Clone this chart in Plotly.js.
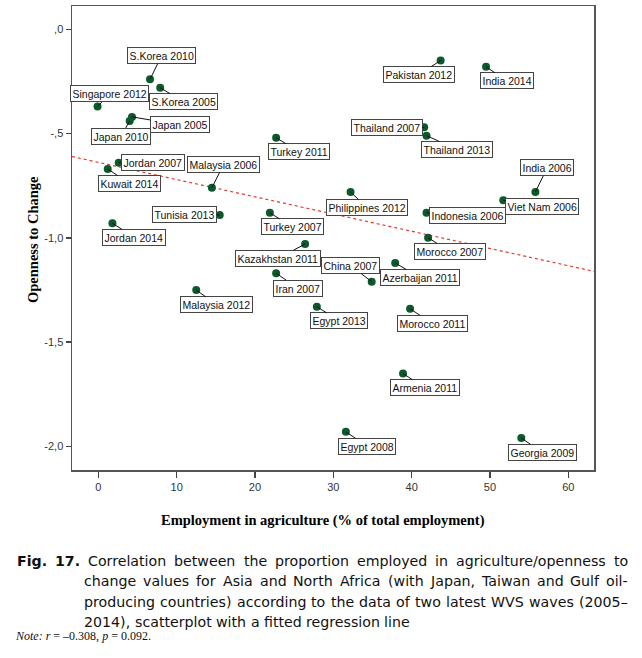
<!DOCTYPE html>
<html>
<head>
<meta charset="utf-8">
<script src="https://cdn.plot.ly/plotly-3.0.1.min.js"></script>
<style>
html,body{margin:0;padding:0;background:#fff;}
#chart{width:642px;height:658px;}
</style>
</head>
<body>
<div id="chart"></div>
<script>
// ---- data ----
const labels = ["S.Korea 2010","S.Korea 2005","Singapore 2012","Japan 2005","Japan 2010","Jordan 2007","Kuwait 2014","Malaysia 2006","Tunisia 2013","Jordan 2014","Turkey 2011","Turkey 2007","Kazakhstan 2011","Pakistan 2012","India 2014","Thailand 2007","Thailand 2013","India 2006","Viet Nam 2006","Philippines 2012","Indonesia 2006","Morocco 2007","Malaysia 2012","Iran 2007","Egypt 2013","China 2007","Azerbaijan 2011","Morocco 2011","Armenia 2011","Egypt 2008","Georgia 2009"];
const agriculture = [6.6,7.9,-0.1,4.3,4.0,2.6,1.2,14.5,15.5,1.8,22.7,21.9,26.4,43.7,49.5,41.6,41.9,55.8,51.7,32.2,41.9,42.1,12.5,22.7,27.9,34.9,37.9,39.8,38.9,31.6,54.0];
const openness = [-0.24,-0.28,-0.37,-0.42,-0.44,-0.64,-0.67,-0.76,-0.89,-0.93,-0.52,-0.88,-1.03,-0.15,-0.18,-0.47,-0.51,-0.78,-0.82,-0.78,-0.88,-1.00,-1.25,-1.17,-1.33,-1.21,-1.12,-1.34,-1.65,-1.93,-1.96];
// fitted regression line
const fitIntercept = -0.638;
const fitSlope = -0.00826;
// tick labels
const xTickVals = [0,10,20,30,40,50,60];
const xTickText = ["0","10","20","30","40","50","60"];
const yTickVals = [0,-0.5,-1,-1.5,-2];
const yTickText = [",0","-,5","-1,0","-1,5","-2,0"];

// ---- layout config (label box offsets in pixels, not data) ----
const labelOffsets = [[11.5,-23.5],[23,14],[12,-12.5],[47.5,8],[-8.5,15],[34,0],[22,14.5],[11.7,-23.4],[-35,0],[22,14],[23,14],[22.5,14],[-27,14],[-22,14],[21,14],[-37.6,0],[30,13.5],[11.7,-24],[39,5.7],[16.3,15.5],[41,2.8],[22,13.3],[20.5,14.8],[21.7,14.7],[22.5,14.2],[-21,-16],[24.3,14.5],[22,14.5],[21.5,14.4],[21.6,14.4],[21,14.2]];

const xRange = [-3.36, 63.28];
const yRange = [-2.113, 0.1116];

const M = {l:72, r:48, t:6, b:188};
const W = 642, H = 658;
const pw = W - M.l - M.r, ph = H - M.t - M.b;
const px2paperX = px => (px - M.l) / pw;
const px2paperY = py => (H - M.b - py) / ph;

const traces = [
  {
    x: xRange.slice(),
    y: xRange.map(v => fitIntercept + fitSlope * v),
    mode: 'lines', type: 'scatter', hoverinfo: 'skip',
    line: {color: '#e8392f', width: 1.2, dash: 'dot'}
  },
  {
    x: agriculture, y: openness, text: labels,
    mode: 'markers', type: 'scatter',
    marker: {color: '#0c5a2c', size: 8, line: {width: 0}}
  }
];

const annotations = labels.map((t, i) => ({
  x: agriculture[i], y: openness[i], xref: 'x', yref: 'y',
  text: t, showarrow: true, arrowhead: 0, arrowwidth: 1, arrowcolor: '#111',
  ax: labelOffsets[i][0], ay: labelOffsets[i][1], axref: 'pixel', ayref: 'pixel',
  bgcolor: '#ffffff', bordercolor: '#444', borderwidth: 1, borderpad: 1.5,
  font: {family: 'Liberation Sans, Arial, sans-serif', size: 10.5, color: '#111'}
}));

const serifBold = {family: 'Liberation Serif, Times New Roman, serif', size: 14.5, color: '#000'};
annotations.push({
  xref: 'paper', yref: 'paper', x: px2paperX(33), y: px2paperY(240),
  text: '<b>Openness to Change</b>', showarrow: false, textangle: -90,
  xanchor: 'center', yanchor: 'middle', font: serifBold
});
annotations.push({
  xref: 'paper', yref: 'paper', x: px2paperX(322.5), y: px2paperY(520),
  text: '<b>Employment in agriculture (% of total employment)</b>', showarrow: false,
  xanchor: 'center', yanchor: 'middle', font: serifBold
});

// ---- caption, justified like the reference ----
const capSize = 14.2;
const capFamily = 'DejaVu Sans';
const capFont = {family: 'DejaVu Sans, Verdana, sans-serif', size: capSize, color: '#111'};
const capLines = [
  {x0: 16, y: 560.5, justify: true, words: [['Fig.', true], ['17.', true], ['Correlation'], ['between'], ['the'], ['proportion'], ['employed'], ['in'], ['agriculture/openness'], ['to']]},
  {x0: 83, y: 581, justify: true, words: 'change values for Asia and North Africa (with Japan, Taiwan and Gulf oil-'.split(' ').map(w => [w])},
  {x0: 83, y: 601.5, justify: true, words: 'producing countries) according to the data of two latest WVS waves (2005–'.split(' ').map(w => [w])},
  {x0: 83, y: 622, justify: false, words: '2014), scatterplot with a fitted regression line'.split(' ').map(w => [w])}
];
const capRight = 627;
const cv = document.createElement('canvas').getContext('2d');
function measure(w, bold) {
  cv.font = (bold ? 'bold ' : '') + capSize + 'px "' + capFamily + '"';
  return cv.measureText(w).width;
}
capLines.forEach(line => {
  const widths = line.words.map(w => measure(w[0], w[1]));
  const total = widths.reduce((a, b) => a + b, 0);
  const n = line.words.length;
  const gap = line.justify ? (capRight - line.x0 - total) / (n - 1) : measure(' ', false);
  let x = line.x0;
  line.words.forEach((w, k) => {
    annotations.push({
      xref: 'paper', yref: 'paper', x: px2paperX(x), y: px2paperY(line.y),
      text: w[1] ? '<b>' + w[0] + '</b>' : w[0], showarrow: false,
      xanchor: 'left', yanchor: 'middle', font: capFont, borderpad: 0
    });
    x += widths[k] + gap;
  });
});
annotations.push({
  xref: 'paper', yref: 'paper', x: px2paperX(13), y: px2paperY(636),
  text: '<i>Note: r</i> = –0.308, <i>p</i> = 0.092.', showarrow: false,
  xanchor: 'left', yanchor: 'middle',
  font: {family: 'Liberation Serif, Times New Roman, serif', size: 12, color: '#111'}
});

const layout = {
  width: W, height: H, margin: M,
  paper_bgcolor: '#fff', plot_bgcolor: '#fff',
  showlegend: false,
  xaxis: {
    range: xRange, tickvals: xTickVals, ticktext: xTickText,
    showgrid: false, zeroline: false, showline: true, mirror: true,
    linecolor: '#555', linewidth: 1.5, ticks: 'outside', ticklen: 6, tickwidth: 1.5, tickcolor: '#444',
    tickfont: {family: 'Liberation Sans, Arial, sans-serif', size: 11, color: '#333'}
  },
  yaxis: {
    range: yRange, tickvals: yTickVals, ticktext: yTickText,
    showgrid: false, zeroline: false, showline: true, mirror: true,
    linecolor: '#555', linewidth: 1.5, ticks: 'outside', ticklen: 5, tickwidth: 1.5, tickcolor: '#444',
    tickfont: {family: 'Liberation Sans, Arial, sans-serif', size: 11, color: '#333'}
  },
  annotations: annotations
};

Plotly.newPlot('chart', traces, layout, {displayModeBar: false, staticPlot: true});
</script>
</body>
</html>
